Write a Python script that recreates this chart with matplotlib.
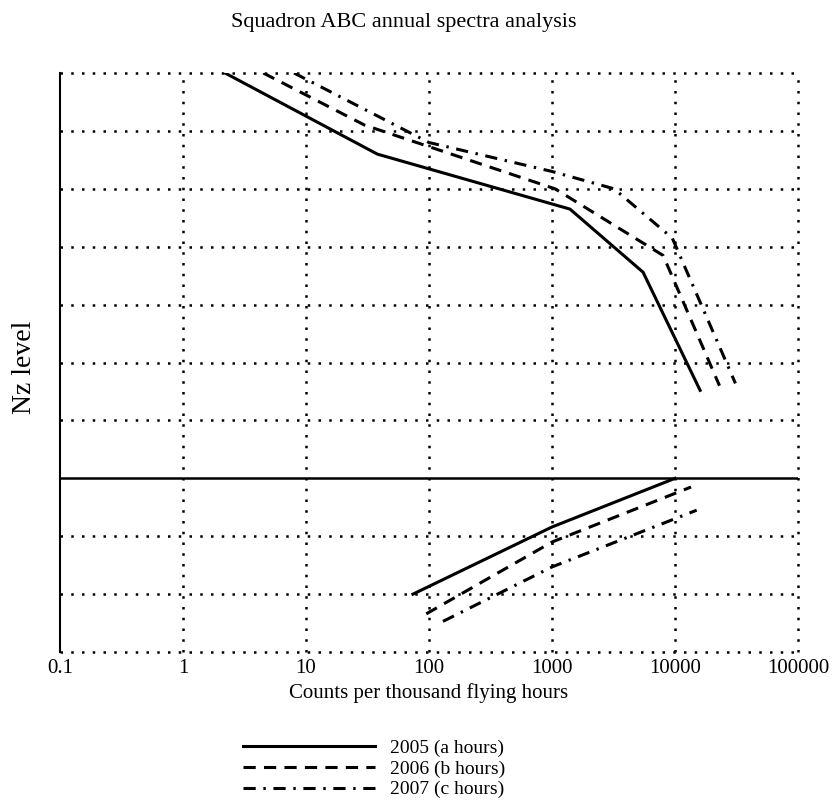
import matplotlib
matplotlib.use("Agg")
import matplotlib.pyplot as plt

plt.rcParams["font.family"] = ["Liberation Serif", "DejaVu Serif"]

# x axis: counts per thousand flying hours (log), y axis: Nz level
x_ticks = [0.1, 1, 10, 100, 1000, 10000, 100000]
x_tick_labels = ["0.1", "1", "10", "100", "1000", "10000", "100000"]
nz_levels = list(range(-2, 9))
baseline_nz = 1.0

series_labels = ["2005 (a hours)", "2006 (b hours)", "2007 (c hours)"]

# positive exceedance curves (above 1 g)
upper_2005_counts = [2.2, 38, 1400, 5500, 16000]
upper_2005_nz = [8.0, 6.6, 5.65, 4.56, 2.52]
upper_2006_counts = [4.5, 30, 1060, 8000, 23000]
upper_2006_nz = [8.0, 7.1, 6.0, 4.85, 2.6]
upper_2007_counts = [8, 100, 1000, 3200, 9500, 31000]
upper_2007_nz = [8.0, 6.8, 6.3, 6.0, 5.15, 2.64]

# negative side curves (below 1 g)
lower_2005_counts = [74, 1000, 10000]
lower_2005_nz = [-1.0, 0.16, 1.0]
lower_2006_counts = [95, 1000, 13500]
lower_2006_nz = [-1.34, -0.1, 0.85]
lower_2007_counts = [130, 1000, 15000]
lower_2007_nz = [-1.47, -0.53, 0.45]

styles = [
    dict(linestyle="-"),
    dict(linestyle=(0, (4, 2.7))),
    dict(linestyle=(0, (4, 2.5, 0.8, 2.5))),
]
LW = 2.2
DOTS = (0, (1, 3.3))

fig = plt.figure(figsize=(8.33, 8.07), dpi=100)
ax = fig.add_axes([0.072, 0.192, 0.886, 0.7175])

ax.set_xscale("log")
ax.set_xlim(x_ticks[0], x_ticks[-1])
ax.set_ylim(nz_levels[0], nz_levels[-1])

# dotted grid, the outer frame lines included
for xv in x_ticks[1:]:
    ax.axvline(xv, color="black", lw=1.8, linestyle=DOTS, clip_on=False, zorder=1)
for yv in nz_levels:
    if yv == baseline_nz:
        continue
    ax.axhline(yv, color="black", lw=1.8, linestyle=DOTS, clip_on=False, zorder=1)

ax.axhline(baseline_nz, color="black", lw=1.8, zorder=2)

uppers = [(upper_2005_counts, upper_2005_nz), (upper_2006_counts, upper_2006_nz),
          (upper_2007_counts, upper_2007_nz)]
lowers = [(lower_2005_counts, lower_2005_nz), (lower_2006_counts, lower_2006_nz),
          (lower_2007_counts, lower_2007_nz)]
handles = []
for (ux, uy), (lx, ly), st, lab in zip(uppers, lowers, styles, series_labels):
    h, = ax.plot(ux, uy, color="black", lw=LW, label=lab, **st)
    ax.plot(lx, ly, color="black", lw=LW, **st)
    handles.append(h)

for s in ["top", "right", "bottom"]:
    ax.spines[s].set_visible(False)
ax.spines["left"].set_linewidth(1.5)

ax.set_xticks(x_ticks, x_tick_labels)
ax.minorticks_off()
ax.set_yticks([])
ax.tick_params(axis="x", length=0, pad=5, labelsize=15)

fig.text(0.485, 0.972, "Squadron ABC annual spectra analysis", ha="center", va="center", fontsize=16)
fig.text(0.515, 0.141, "Counts per thousand flying hours", ha="center", va="center", fontsize=15)
fig.text(0.029, 0.545, "Nz level", ha="center", va="center", rotation=90, fontsize=20)

fig.legend(handles=handles, loc="upper left", bbox_to_anchor=(0.292, 0.084),
           frameon=False, fontsize=14, handlelength=6.8, handletextpad=0.75,
           labelspacing=0.16, borderpad=0, borderaxespad=0)

plt.savefig("out.png", dpi=100)
plt.close()
